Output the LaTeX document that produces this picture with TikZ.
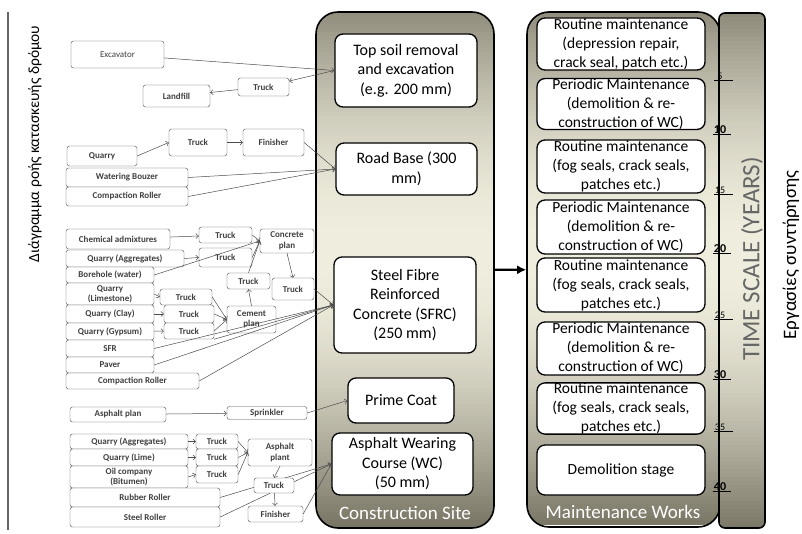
\documentclass[tikz,border=0pt]{standalone}
\usepackage{fontspec}
\setmainfont{Carlito}
\usetikzlibrary{positioning,arrows.meta,backgrounds}
\pgfdeclarelayer{panels}
\pgfdeclarelayer{background}
\pgfsetlayers{panels,background,main}
\definecolor{panelDark}{RGB}{118,114,98}
\definecolor{panelLight}{RGB}{240,238,222}

\begin{document}
\begin{tikzpicture}[x=1pt,y=-1pt,
  small/.style={draw=black!70,fill=white,rounded corners=2.5pt,inner sep=0pt,align=center,
    text=black!75,font=\fontsize{9}{10.5}\selectfont\bfseries},
  layer/.style={draw,line width=1.3pt,fill=white,rounded corners=8pt,inner sep=0pt,align=center,
    font=\fontsize{16}{19.5}\selectfont},
  works/.style={layer,minimum width=168,font=\fontsize{15.5}{19}\selectfont},
  panel/.style={draw,line width=1.6pt,rounded corners=22pt,inner sep=0pt},
  feed/.style={draw=black!70,line width=0.5pt,-{Straight Barb[length=2.5pt,width=5pt]}},
  year/.style={font=\fontsize{10}{10}\selectfont,inner sep=0.5pt,anchor=south},
  decade/.style={year,font=\fontsize{12}{12}\selectfont\bfseries}]
  \useasboundingbox (0,0) rectangle (802,534);

  % time scale bar, shaded by thin bands
  \begin{scope}
    \clip[rounded corners=6pt] (720,13) rectangle (765,528);
    \foreach \yb in {13,17,...,525} {
      \pgfmathtruncatemacro\tone{100*cos((\yb-255)/280*90)}
      \fill[panelLight!\tone!panelDark] (720,\yb) rectangle (765,\yb+4.6);
    }
  \end{scope}
  \node[panel,rounded corners=6pt,minimum width=46,minimum height=515] (timebar) at (742,270.5) {};

  % side titles
  \draw[line width=1.2pt,black!60] (8,12) -- (8,530);
  \node[rotate=90,font=\fontsize{15.5}{16}\selectfont] (flow) at (35,144) {Διάγραμμα ροής κατασκευής δρόμου};
  \node[rotate=90,font=\fontsize{19}{19}\selectfont] (maint) at (791,255) {Εργασίες συντήρησης};

  % the two panels, shaded by thin bands
  \begin{pgfonlayer}{panels}
    \begin{scope}
      \clip[rounded corners=22pt] (316,12) rectangle (494,528);
      \foreach \yb in {12,16,...,524} {
        \pgfmathtruncatemacro\tone{100*cos((\yb-250)/280*90)}
        \fill[panelLight!\tone!panelDark] (316,\yb) rectangle (494,\yb+4.6);
      }
    \end{scope}
    \node[panel,minimum width=178,minimum height=516] (site) at (405,270) {};
    \begin{scope}
      \clip[rounded corners=22pt] (527,12) rectangle (720,527);
      \foreach \yb in {12,16,...,523} {
        \pgfmathtruncatemacro\tone{100*cos((\yb-250)/280*90)}
        \fill[panelLight!\tone!panelDark] (527,\yb) rectangle (720,\yb+4.6);
      }
    \end{scope}
    \node[panel,minimum width=193,minimum height=515] (workspanel) at (623.5,269.5) {};
  \end{pgfonlayer}
  \node[text=white,font=\fontsize{19}{19}\selectfont] (sitelbl) at (405,513) {Construction Site};
  \node[text=white,font=\fontsize{19}{19}\selectfont] (workslbl) at (623,512) {Maintenance Works};
  \node[rotate=90,text=black!60,font=\fontsize{25}{25}\selectfont] (scalelbl) at (752,259) {TIME SCALE (YEARS)};
  \draw[-{Latex[length=9pt,width=9pt]},line width=2.4pt] (site) -- (workspanel);

  % construction layers
  \node[layer,minimum width=142,minimum height=73] (topsoil) at (406,70.5) {Top soil removal\\and excavation\\(e.g. 200 mm)};
  \node[layer,minimum width=141,minimum height=52] (roadbase) at (406.5,169) {Road Base (300\\mm)};
  \node[layer,minimum width=142,minimum height=96] (sfrc) at (405,305) {Steel Fibre\\Reinforced\\Concrete (SFRC)\\(250 mm)};
  \node[layer,minimum width=106,minimum height=45] (prime) at (401,400.5) {Prime Coat};
  \node[layer,minimum width=141,minimum height=62] (wc) at (402.5,464) {Asphalt Wearing\\Course (WC)\\(50 mm)};

  % maintenance works
  \node[works,minimum height=52] (w1) at (621,44) {Routine maintenance\\(depression repair,\\crack seal, patch etc.)};
  \node[works,minimum height=48] (w2) at (621,104) {Periodic Maintenance\\(demolition \& re-\\construction of WC)};
  \node[works,minimum height=53] (w3) at (621,166.5) {Routine maintenance\\(fog seals, crack seals,\\patches etc.)};
  \node[works,minimum height=54] (w4) at (621,227) {Periodic Maintenance\\(demolition \& re-\\construction of WC)};
  \node[works,minimum height=54] (w5) at (621,285) {Routine maintenance\\(fog seals, crack seals,\\patches etc.)};
  \node[works,minimum height=53] (w6) at (621,348.5) {Periodic Maintenance\\(demolition \& re-\\construction of WC)};
  \node[works,minimum height=51] (w7) at (621,408.5) {Routine maintenance\\(fog seals, crack seals,\\patches etc.)};
  \node[works,minimum height=50] (w8) at (621,470) {Demolition stage};

  % years
  \node[year] (y5) at (720,80) {5};
  \node[decade] (y10) at (720,134) {10};
  \node[year] (y15) at (720,194) {15};
  \node[decade] (y20) at (720,253) {20};
  \node[year] (y25) at (720,319) {25};
  \node[decade] (y30) at (720,379) {30};
  \node[year] (y35) at (720,431) {35};
  \node[decade] (y40) at (720,491) {40};
  \draw[line width=0.9pt] (714,80) -- (733,80) (713,134) -- (731,134) (714,194) -- (733,194)
    (713,253) -- (731,253) (714,319) -- (733,319) (713,379) -- (731,379) (714,431) -- (733,431)
    (713,491) -- (731,491);

  % top soil
  \node[small,font=\fontsize{9}{10.5}\selectfont,minimum width=93,minimum height=27] (exc) at (117.5,54.5) {Excavator};
  \node[small,minimum width=67,minimum height=22] (landfill) at (176.5,96) {Landfill};
  \node[small,minimum width=51,minimum height=18] (trkA) at (263.5,87) {Truck};
  \draw[feed] (exc) -- (topsoil.west);
  \draw[feed] (topsoil.west) -- (trkA);
  \draw[feed] (trkA) -- (landfill);

  % road base
  \node[small,minimum width=70,minimum height=20] (quarry) at (102,156) {Quarry};
  \node[small,minimum width=58,minimum height=27] (trkB) at (198,142.5) {Truck};
  \node[small,minimum width=61,minimum height=27] (finA) at (273.5,142.5) {Finisher};
  \node[small,minimum width=122,minimum height=19] (bouzer) at (127,177.5) {Watering Bouzer};
  \node[small,minimum width=122,minimum height=19] (rollA) at (127,196.5) {Compaction Roller};
  \draw[feed] (quarry.east) -- (trkB.west);
  \draw[feed] (trkB) -- (finA);
  \draw[feed] (finA.east) -- (roadbase.west);
  \draw[feed] (bouzer.east) -- (roadbase.west);
  \draw[feed] (rollA.east) -- (roadbase.west);

  % SFRC
  \node[small,minimum width=104,minimum height=20] (chem) at (118,239) {Chemical admixtures};
  \node[small,minimum width=118,minimum height=17] (aggA) at (125,258.5) {Quarry (Aggregates)};
  \node[small,minimum width=88,minimum height=16] (bore) at (110,275) {Borehole (water)};
  \node[small,minimum width=88,minimum height=22] (lime) at (110,294) {Quarry\\(Limestone)};
  \node[small,minimum width=88,minimum height=18] (clay) at (110,314) {Quarry (Clay)};
  \node[small,minimum width=88,minimum height=17] (gyp) at (110,331.5) {Quarry (Gypsum)};
  \node[small,minimum width=88,minimum height=17] (sfr) at (110,348.5) {SFR};
  \node[small,minimum width=88,minimum height=16] (paver) at (110,365) {Paver};
  \node[small,minimum width=133,minimum height=16] (rollB) at (132.5,381) {Compaction Roller};
  \node[small,minimum width=53,minimum height=16] (trkC) at (225.5,235) {Truck};
  \node[small,minimum width=53,minimum height=19] (trkD) at (225.5,257.5) {Truck};
  \node[small,minimum width=54,minimum height=24] (concrete) at (287,241) {Concrete\\plan};
  \node[small,minimum width=43,minimum height=16] (trkE) at (248.5,281) {Truck};
  \node[small,minimum width=42,minimum height=22] (trkF) at (293,289) {Truck};
  \node[small,minimum width=52,minimum height=16] (trkG) at (186,297) {Truck};
  \node[small,minimum width=50,minimum height=18] (trkH) at (189,314) {Truck};
  \node[small,minimum width=50,minimum height=16] (trkI) at (189,331) {Truck};
  \node[small,minimum width=49,minimum height=27] (cement) at (251.5,319.5) {Cement\\plan};
  \draw[feed] (chem) -- (trkC);
  \draw[feed] (aggA.east) -- (trkD.west);
  \draw[feed] (trkC.east) -- (concrete.west);
  \draw[feed] (trkD.east) -- (concrete.west);
  \draw[feed] (bore.east) -- (concrete.west);
  \draw[feed] (trkE.north) -- (concrete.west);
  \draw[feed] (concrete.south) -- (trkF.north);
  \draw[feed] (lime.east) -- (trkG.west);
  \draw[feed] (clay) -- (trkH);
  \draw[feed] (gyp) -- (trkI);
  \draw[feed] (trkG.east) -- (cement.west);
  \draw[feed] (trkH.east) -- (cement.west);
  \draw[feed] (trkI.east) -- (cement.west);
  \draw[feed] (cement.north) -- (trkE.south);
  \draw[feed] (trkF.east) -- (sfrc.west);
  \draw[feed] (trkI.south east) -- (sfrc.west);
  \draw[feed] (sfr.east) -- (sfrc.west);
  \draw[feed] (paver.east) -- (sfrc.west);
  \draw[feed] (rollB.east) -- (sfrc.west);

  % prime coat
  \node[small,minimum width=96,minimum height=15] (asplan) at (118,414.5) {Asphalt plan};
  \node[small,minimum width=80,minimum height=13] (sprink) at (267,413) {Sprinkler};
  \draw[feed] (asplan) -- (sprink);
  \draw[feed] (sprink.east) -- (prime.west);

  % wearing course
  \node[small,minimum width=118,minimum height=15] (aggB) at (129,441.5) {Quarry (Aggregates)};
  \node[small,minimum width=118,minimum height=17] (limeB) at (129,457.5) {Quarry (Lime)};
  \node[small,minimum width=118,minimum height=22] (oil) at (129,477) {Oil company\\(Bitumen)};
  \node[small,minimum width=150,minimum height=19] (rubber) at (145,497.5) {Rubber Roller};
  \node[small,minimum width=150,minimum height=20] (steel) at (145,517) {Steel Roller};
  \node[small,minimum width=42,minimum height=15] (trkJ) at (217,441.5) {Truck};
  \node[small,minimum width=42,minimum height=17] (trkK) at (217,457.5) {Truck};
  \node[small,minimum width=42,minimum height=17] (trkL) at (217,474.5) {Truck};
  \node[small,minimum width=64,minimum height=27] (asplant) at (280,452.5) {Asphalt\\plant};
  \node[small,minimum width=40,minimum height=15] (trkM) at (274,485.5) {Truck};
  \node[small,minimum width=55,minimum height=16] (finB) at (275.5,514) {Finisher};
  \draw[feed] (aggB) -- (trkJ);
  \draw[feed] (limeB) -- (trkK);
  \draw[feed] (oil.east) -- (trkL.west);
  \draw[feed] (trkJ.east) -- (asplant.west);
  \draw[feed] (trkK.east) -- (asplant.west);
  \draw[feed] (trkL.east) -- (asplant.west);
  \draw[feed] (asplant.south) -- (trkM.north);
  \draw[feed] (trkM) -- (finB);
  \begin{scope}[on background layer]
    \draw[feed] (rubber.east) -- (wc.west);
    \draw[feed] (steel.east) -- (wc.west);
  \end{scope}
  \draw[feed] (finB.east) -- (wc.west);
\end{tikzpicture}
\end{document}
